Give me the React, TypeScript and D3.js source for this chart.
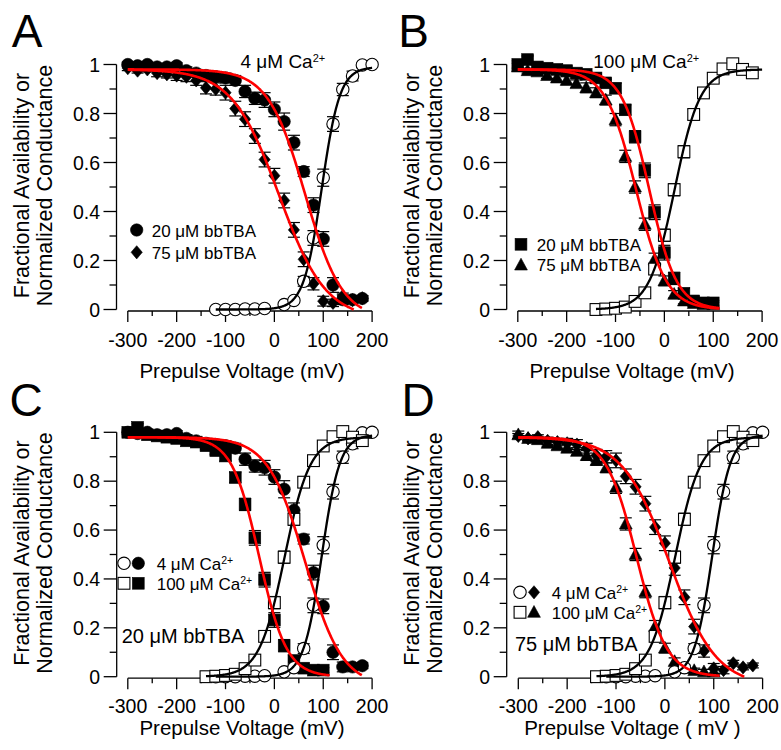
import React from "react";
import * as d3 from "d3";

const FONT = "'Liberation Sans', Arial, Helvetica, sans-serif";

// ---------- axis ticks ----------
const xMajorTicks = [-300, -200, -100, 0, 100, 200];
const xMinorTicks = [-250, -150, -50, 50, 150];
const yMajorTicks = [0, 0.2, 0.4, 0.6, 0.8, 1];
const yTickLabels = ["0", "0.2", "0.4", "0.6", "0.8", "1"];
const yMinorTicks = [0.1, 0.3, 0.5, 0.7, 0.9];

// ---------- 4 µM Ca2+ : availability (20 & 75 µM bbTBA) ----------
const volt4Ca = [-300, -280, -260, -240, -220, -200, -180, -160, -140, -120, -100, -80, -60, -40, -20, 0, 20, 40, 60, 80, 100, 120, 140, 160, 180];
const avail4Ca20 = [1.0, 0.995, 1.0, 0.99, 0.99, 0.995, 0.975, 0.965, 0.955, 0.95, 0.945, 0.935, 0.89, 0.862, 0.855, 0.817, 0.767, 0.681, 0.563, 0.426, 0.288, 0.1, 0.04, 0.04, 0.045];
const sem4Ca20 = [0.01, 0.01, 0.01, 0.01, 0.01, 0.012, 0.015, 0.015, 0.02, 0.02, 0.02, 0.02, 0.025, 0.025, 0.03, 0.03, 0.035, 0.03, 0.02, 0.03, 0.03, 0.03, 0.02, 0.015, 0.012];
const avail4Ca75 = [0.985, 0.975, 0.98, 0.965, 0.96, 0.955, 0.95, 0.935, 0.905, 0.9, 0.885, 0.82, 0.777, 0.708, 0.612, 0.546, 0.445, 0.325, 0.205, 0.105, 0.034, 0.027, 0.055, 0.038, 0.046];
const sem4Ca75 = [0.01, 0.01, 0.01, 0.015, 0.015, 0.02, 0.02, 0.02, 0.025, 0.025, 0.03, 0.03, 0.03, 0.03, 0.03, 0.03, 0.03, 0.03, 0.03, 0.025, 0.02, 0.015, 0.012, 0.01, 0.01];

// ---------- 4 µM Ca2+ : normalized conductance (open circles) ----------
const voltG4Ca = [-120, -100, -80, -60, -40, -20, 20, 40, 60, 80, 100, 120, 140, 160, 180, 200];
const cond4Ca = [0.0, 0.0, 0.0, 0.002, 0.002, 0.004, 0.02, 0.037, 0.115, 0.292, 0.538, 0.757, 0.898, 0.953, 0.998, 1.0];
const semG4Ca = [0.004, 0.004, 0.004, 0.004, 0.004, 0.005, 0.008, 0.01, 0.02, 0.03, 0.035, 0.03, 0.025, 0.02, 0.01, 0.01];

// ---------- 100 µM Ca2+ : availability (20 & 75 µM bbTBA) ----------
const volt100Ca = [-300, -280, -260, -240, -220, -200, -180, -160, -140, -120, -100, -80, -60, -40, -20, 0, 20, 40, 60, 80, 100];
const avail100Ca20 = [1.0, 1.02, 0.99, 0.985, 0.98, 0.975, 0.965, 0.96, 0.945, 0.925, 0.903, 0.815, 0.705, 0.568, 0.397, 0.232, 0.127, 0.066, 0.035, 0.027, 0.027];
const sem100Ca20 = [0.015, 0.015, 0.01, 0.01, 0.01, 0.01, 0.01, 0.012, 0.015, 0.015, 0.02, 0.02, 0.025, 0.03, 0.03, 0.03, 0.025, 0.02, 0.015, 0.012, 0.01];
const avail100Ca75 = [0.99, 0.975, 0.97, 0.955, 0.945, 0.935, 0.922, 0.905, 0.885, 0.855, 0.775, 0.625, 0.5, 0.348, 0.205, 0.117, 0.062, 0.035, 0.025, 0.02, 0.02];
const sem100Ca75 = [0.015, 0.01, 0.01, 0.012, 0.015, 0.015, 0.015, 0.02, 0.02, 0.02, 0.025, 0.025, 0.025, 0.025, 0.025, 0.02, 0.015, 0.012, 0.01, 0.01, 0.01];

// ---------- 100 µM Ca2+ : normalized conductance (open squares) ----------
const voltG100Ca = [-140, -120, -100, -80, -60, -40, -20, 0, 20, 40, 60, 80, 100, 120, 140, 160, 180];
const cond100Ca = [0.0, 0.002, 0.005, 0.01, 0.033, 0.068, 0.165, 0.303, 0.489, 0.644, 0.796, 0.884, 0.944, 0.982, 1.003, 0.98, 0.966];
const semG100Ca = [0.004, 0.004, 0.005, 0.008, 0.012, 0.015, 0.02, 0.025, 0.025, 0.025, 0.022, 0.02, 0.018, 0.015, 0.015, 0.018, 0.015];

// ---------- Boltzmann fit parameters ----------
// [V1/2, slope k, top, bottom, V from, V to, direction (+1 decreasing / -1 increasing)]
const fitAvail4Ca20 = [63, 38, 0.98, -0.04, -300, 179, 1];
const fitAvail4Ca75 = [9, 48, 0.98, -0.04, -300, 176, 1];
const fitCond4Ca = [97, 18.5, 0.99, 0, -120, 200, -1];
const fitAvail100Ca20 = [-31, 28, 0.98, 0, -300, 113, 1];
const fitAvail100Ca75 = [-58, 31, 0.98, 0, -300, 112, 1];
const fitCond100Ca = [21, 26, 0.98, 0, -140, 200, -1];

type Shape = "circle" | "square" | "diamond" | "triangle";
type Series = { v: number[]; f: number[]; e: number[]; shape: Shape; open: boolean };

const sCirc20: Series = { v: volt4Ca, f: avail4Ca20, e: sem4Ca20, shape: "circle", open: false };
const sDiam75: Series = { v: volt4Ca, f: avail4Ca75, e: sem4Ca75, shape: "diamond", open: false };
const sCircOpen: Series = { v: voltG4Ca, f: cond4Ca, e: semG4Ca, shape: "circle", open: true };
const sSq20: Series = { v: volt100Ca, f: avail100Ca20, e: sem100Ca20, shape: "square", open: false };
const sTri75: Series = { v: volt100Ca, f: avail100Ca75, e: sem100Ca75, shape: "triangle", open: false };
const sSqOpen: Series = { v: voltG100Ca, f: cond100Ca, e: semG100Ca, shape: "square", open: true };

const RED = "#ff0000";
const BLACK = "#000000";

function fitPoints(p: number[]): [number, number][] {
  const [vh, k, top, bottom, v0, v1, dir] = p;
  const pts: [number, number][] = [];
  let prev: [number, number] | null = null;
  for (let v = v0; v <= v1 + 1e-9; v += 1) {
    const f = bottom + (top - bottom) / (1 + Math.exp((dir * (v - vh)) / k));
    if (f < 0) {
      if (prev) {
        const t = prev[1] / (prev[1] - f);
        pts.push([prev[0] + t, 0]);
      }
      break;
    }
    pts.push([v, f]);
    prev = [v, f];
  }
  return pts;
}

function Marker({ shape, open, cx, cy }: { shape: Shape; open: boolean; cx: number; cy: number }) {
  const fill = open ? "#fff" : "#000";
  const sw = open ? 1.1 : 0.6;
  if (shape === "circle") return <circle cx={cx} cy={cy} r={6.2} fill={fill} stroke="#000" strokeWidth={sw} />;
  if (shape === "square")
    return <rect x={cx - 5.9} y={cy - 5.9} width={11.8} height={11.8} fill={fill} stroke="#000" strokeWidth={sw} />;
  if (shape === "diamond")
    return (
      <path
        d={`M${cx},${cy - 6.6}L${cx + 5.6},${cy}L${cx},${cy + 6.6}L${cx - 5.6},${cy}Z`}
        fill={fill}
        stroke="#000"
        strokeWidth={sw}
      />
    );
  return (
    <path
      d={`M${cx},${cy - 6.8}L${cx + 6.4},${cy + 5}L${cx - 6.4},${cy + 5}Z`}
      fill={fill}
      stroke="#000"
      strokeWidth={sw}
    />
  );
}

type LegendRow = { marks: { shape: Shape; open: boolean; x: number }[]; y: number; tx: number; base: number; text: string; sup?: string };
type PanelDef = {
  letter: string;
  letterX: number;
  letterY: number;
  axisX: number;
  x0: number;
  x1: number;
  y0: number;
  y1: number;
  series: Series[];
  fits: { p: number[]; color: string }[];
  annot?: { x: number; y: number; text: string; sup: string };
  legend: LegendRow[];
  legendFont: number;
  note?: { x: number; y: number; text: string };
  xTitle: string;
  tickBase: number;
  titleBase: number;
};

const panels: PanelDef[] = [
  {
    letter: "A", letterX: 11.7, letterY: 46.7, axisX: 116.5, x0: 127.8, x1: 372.1, y0: 309.5, y1: 64.5,
    series: [sCirc20, sDiam75, sCircOpen],
    fits: [{ p: fitCond4Ca, color: BLACK }, { p: fitAvail4Ca20, color: RED }, { p: fitAvail4Ca75, color: RED }],
    annot: { x: 240.5, y: 68.3, text: "4 \u03BCM Ca", sup: "2+" },
    legend: [
      { marks: [{ shape: "circle", open: false, x: 136.7 }], y: 230, tx: 151.7, base: 237.2, text: "20 \u03BCM bbTBA" },
      { marks: [{ shape: "diamond", open: false, x: 136.7 }], y: 252.3, tx: 151.7, base: 258.8, text: "75 \u03BCM bbTBA" },
    ],
    legendFont: 17,
    xTitle: "Prepulse Voltage (mV)", tickBase: 347, titleBase: 378,
  },
  {
    letter: "B", letterX: 398.3, letterY: 46.7, axisX: 506.7, x0: 517.8, x1: 762.1, y0: 309.5, y1: 64.5,
    series: [sSq20, sTri75, sSqOpen],
    fits: [{ p: fitCond100Ca, color: BLACK }, { p: fitAvail100Ca20, color: RED }, { p: fitAvail100Ca75, color: RED }],
    annot: { x: 593.3, y: 68.3, text: "100 \u03BCM Ca", sup: "2+" },
    legend: [
      { marks: [{ shape: "square", open: false, x: 521 }], y: 244.3, tx: 536.7, base: 251.3, text: "20 \u03BCM bbTBA" },
      { marks: [{ shape: "triangle", open: false, x: 521 }], y: 265, tx: 536.7, base: 270.5, text: "75 \u03BCM bbTBA" },
    ],
    legendFont: 17,
    xTitle: "Prepulse Voltage (mV)", tickBase: 347, titleBase: 378,
  },
  {
    letter: "C", letterX: 9.4, letterY: 416, axisX: 116.7, x0: 127.8, x1: 372.1, y0: 676.7, y1: 432.3,
    series: [sCirc20, sSq20, sCircOpen, sSqOpen],
    fits: [{ p: fitCond4Ca, color: BLACK }, { p: fitCond100Ca, color: BLACK }, { p: fitAvail4Ca20, color: RED }, { p: fitAvail100Ca20, color: RED }],
    legend: [
      { marks: [{ shape: "circle", open: true, x: 124 }, { shape: "circle", open: false, x: 138.3 }], y: 563.3, tx: 156.7, base: 569.9, text: "4 \u03BCM Ca", sup: "2+" },
      { marks: [{ shape: "square", open: true, x: 124 }, { shape: "square", open: false, x: 138.3 }], y: 583.3, tx: 156.7, base: 589.9, text: "100 \u03BCM Ca", sup: "2+" },
    ],
    legendFont: 17,
    note: { x: 121.7, y: 642.6, text: "20 \u03BCM bbTBA" },
    xTitle: "Prepulse Voltage (mV)", tickBase: 713.3, titleBase: 735,
  },
  {
    letter: "D", letterX: 401.4, letterY: 416, axisX: 506.7, x0: 518.3, x1: 762.6, y0: 676.7, y1: 432.3,
    series: [sDiam75, sTri75, sCircOpen, sSqOpen],
    fits: [{ p: fitCond4Ca, color: BLACK }, { p: fitCond100Ca, color: BLACK }, { p: fitAvail4Ca75, color: RED }, { p: fitAvail100Ca75, color: RED }],
    legend: [
      { marks: [{ shape: "circle", open: true, x: 520 }, { shape: "diamond", open: false, x: 534 }], y: 592.3, tx: 551.7, base: 598.9, text: "4 \u03BCM Ca", sup: "2+" },
      { marks: [{ shape: "square", open: true, x: 520 }, { shape: "triangle", open: false, x: 534 }], y: 612.3, tx: 551.7, base: 618.9, text: "100 \u03BCM Ca", sup: "2+" },
    ],
    legendFont: 17,
    note: { x: 515, y: 651, text: "75 \u03BCM bbTBA" },
    xTitle: "Prepulse Voltage ( mV )", tickBase: 713.3, titleBase: 735,
  },
];

function Panel({ p }: { p: PanelDef }) {
  const x = d3.scaleLinear().domain([-300, 200]).range([p.x0, p.x1]);
  const y = d3.scaleLinear().domain([0, 1]).range([p.y0, p.y1]);
  const xAxisY = p.y0 + 1.5;
  const line = d3
    .line<[number, number]>()
    .x((d) => x(d[0]))
    .y((d) => y(d[1]))
    .curve(d3.curveLinear);
  const yMid = (p.y0 + p.y1) / 2 - 1.5;
  const xMid = (p.x0 + p.x1) / 2 - 8;
  return (
    <g>
      <text x={p.letterX} y={p.letterY} fontSize={46} fill="#000">{p.letter}</text>

      {/* y axis */}
      <line x1={p.axisX} x2={p.axisX} y1={y(0)} y2={y(1)} stroke="#000" strokeWidth={1.3} />
      {yMajorTicks.map((t, i) => (
        <g key={"ym" + i}>
          <line x1={p.axisX - 13} x2={p.axisX} y1={y(t)} y2={y(t)} stroke="#000" strokeWidth={1.3} />
          <text x={p.axisX - 16.5} y={y(t)} dy="0.36em" textAnchor="end" fontSize={19.5}>{yTickLabels[i]}</text>
        </g>
      ))}
      {yMinorTicks.map((t, i) => (
        <line key={"yn" + i} x1={p.axisX - 7} x2={p.axisX} y1={y(t)} y2={y(t)} stroke="#000" strokeWidth={1.3} />
      ))}
      <text transform={`translate(${p.axisX - 88},${yMid}) rotate(-90)`} textAnchor="middle" fontSize={21.5}>
        Fractional Availability or
      </text>
      <text transform={`translate(${p.axisX - 64.8},${yMid}) rotate(-90)`} textAnchor="middle" fontSize={21.5}>
        Normalized Conductance
      </text>

      {/* x axis */}
      <line x1={x(-300)} x2={x(200)} y1={xAxisY} y2={xAxisY} stroke="#000" strokeWidth={1.3} />
      {xMajorTicks.map((t, i) => (
        <g key={"xm" + i}>
          <line x1={x(t)} x2={x(t)} y1={xAxisY} y2={xAxisY + 11} stroke="#000" strokeWidth={1.3} />
          <text x={x(t)} y={p.tickBase} textAnchor="middle" fontSize={19.5}>{String(t)}</text>
        </g>
      ))}
      {xMinorTicks.map((t, i) => (
        <line key={"xn" + i} x1={x(t)} x2={x(t)} y1={xAxisY} y2={xAxisY + 5} stroke="#000" strokeWidth={1.3} />
      ))}
      <text x={xMid} y={p.titleBase} textAnchor="middle" fontSize={20.5}>{p.xTitle}</text>

      {/* data: error bars + markers */}
      {p.series.map((s, si) => (
        <g key={"s" + si}>
          {s.v.map((v, i) => {
            const cx = x(v);
            const ya = y(s.f[i] + s.e[i]);
            const yb = y(s.f[i] - s.e[i]);
            return (
              <g key={i} stroke="#000" strokeWidth={1.2}>
                <line x1={cx} x2={cx} y1={ya} y2={yb} />
                <line x1={cx - 6} x2={cx + 6} y1={ya} y2={ya} />
                <line x1={cx - 6} x2={cx + 6} y1={yb} y2={yb} />
              </g>
            );
          })}
          {s.v.map((v, i) => (
            <Marker key={"m" + i} shape={s.shape} open={s.open} cx={x(v)} cy={y(s.f[i])} />
          ))}
        </g>
      ))}

      {/* fits */}
      {p.fits.map((fit, i) => (
        <path key={"f" + i} d={line(fitPoints(fit.p)) || ""} fill="none" stroke={fit.color} strokeWidth={fit.color === RED ? 2.6 : 2.3} />
      ))}

      {/* annotations */}
      {p.annot && (
        <text x={p.annot.x} y={p.annot.y} fontSize={19}>
          {p.annot.text}
          <tspan fontSize={11} dy={-6}>{p.annot.sup}</tspan>
        </text>
      )}
      {p.legend.map((r, i) => (
        <g key={"l" + i}>
          {r.marks.map((m, j) => (
            <Marker key={j} shape={m.shape} open={m.open} cx={m.x} cy={r.y} />
          ))}
          <text x={r.tx} y={r.base} fontSize={p.legendFont}>
            {r.text}
            {r.sup && <tspan fontSize={10.5} dy={-6}>{r.sup}</tspan>}
          </text>
        </g>
      ))}
      {p.note && (
        <text x={p.note.x} y={p.note.y} fontSize={20}>{p.note.text}</text>
      )}
    </g>
  );
}

export default function App() {
  const W = 781;
  const H = 750;
  return (
    <svg
      width={W}
      height={H}
      viewBox={`0 0 ${W} ${H}`}
      style={{ position: "absolute", left: 0, top: 0, background: "#fff" }}
      fontFamily={FONT}
    >
      <rect width={W} height={H} fill="#fff" />
      {panels.map((p) => (
        <Panel key={p.letter} p={p} />
      ))}
    </svg>
  );
}
